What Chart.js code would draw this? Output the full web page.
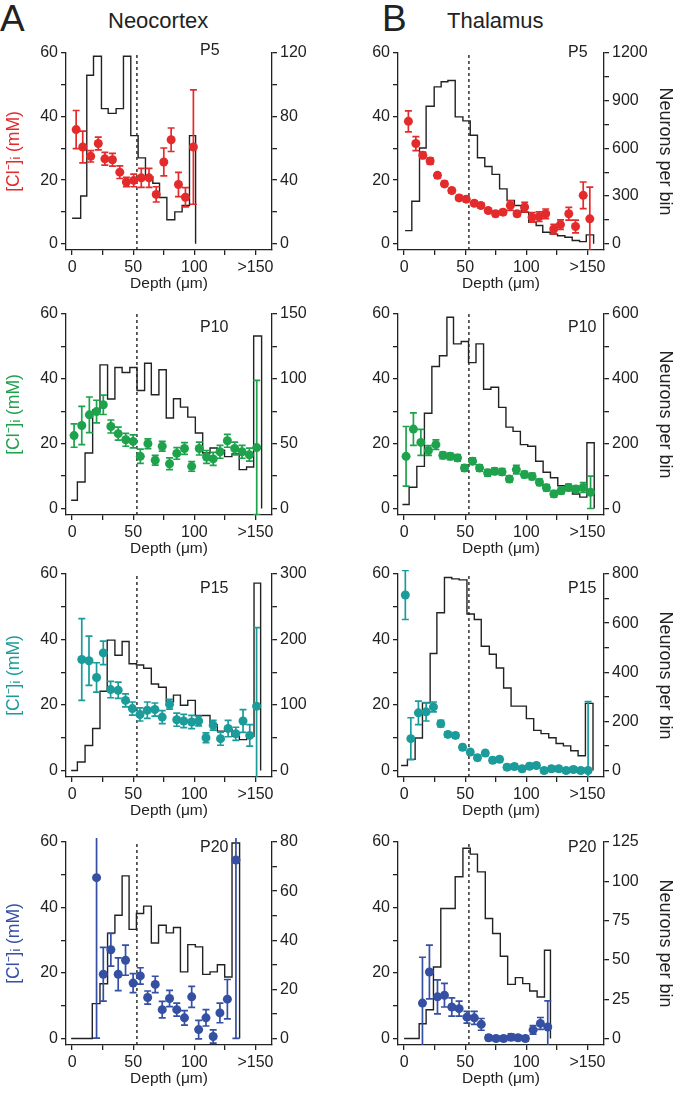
<!DOCTYPE html>
<html>
<head>
<meta charset="utf-8">
<script src="https://cdn.jsdelivr.net/npm/chart.js@4.4.1/dist/chart.umd.min.js"></script>
<style>
  body { margin: 0; background: #fff; width: 677px; height: 1094px; position: relative; overflow: hidden; font-family: "Liberation Sans", Arial, sans-serif; color: #222; }
  canvas { position: absolute; }
  .txt { position: absolute; white-space: nowrap; line-height: 1; }
</style>
</head>
<body>
<div class="txt" style="left:0px;top:0px;font-size:37px">A</div>
<div class="txt" style="left:108px;top:10px;font-size:22px">Neocortex</div>
<div class="txt" style="left:382px;top:0px;font-size:37px">B</div>
<div class="txt" style="left:447px;top:10px;font-size:22px">Thalamus</div>

<canvas id="ncP5" width="336" height="255" style="left:0px;top:38px"></canvas>
<canvas id="thP5" width="341" height="255" style="left:336px;top:38px"></canvas>
<canvas id="ncP10" width="336" height="259" style="left:0px;top:299px"></canvas>
<canvas id="thP10" width="341" height="259" style="left:336px;top:299px"></canvas>
<canvas id="ncP15" width="336" height="261" style="left:0px;top:559px"></canvas>
<canvas id="thP15" width="341" height="261" style="left:336px;top:559px"></canvas>
<canvas id="ncP20" width="336" height="261" style="left:0px;top:827px"></canvas>
<canvas id="thP20" width="341" height="261" style="left:336px;top:827px"></canvas>

<div class="txt" style="left:200px;top:42px;font-size:16px">P5</div>
<div class="txt" style="left:568px;top:44px;font-size:16px">P5</div>
<div class="txt" style="left:200px;top:319px;font-size:16px">P10</div>
<div class="txt" style="left:568px;top:319px;font-size:16px">P10</div>
<div class="txt" style="left:200px;top:580px;font-size:16px">P15</div>
<div class="txt" style="left:568px;top:580px;font-size:16px">P15</div>
<div class="txt" style="left:200px;top:839px;font-size:16px">P20</div>
<div class="txt" style="left:568px;top:839px;font-size:16px">P20</div>

<script>
// shared axes
const depthTicks = [0, 25, 50, 75, 100, 125, 150]
const depthLabels = { 0: '0', 50: '50', 100: '100', 150: '>150' }
const clTicks = [0, 10, 20, 30, 40, 50, 60]
const clLabels = [0, 20, 40, 60]
const layerEdge = 53

const red = '#e42b2c'
const green = '#1ea24c'
const teal = '#1b9c9a'
const blue = '#3550a3'

// Neocortex P5
const ncP5Depth = [3.3, 8.7, 15.2, 21.4, 26.8, 33, 39, 44.4, 50.4, 56.6, 62.9, 68.8, 75, 81, 87, 92.7, 99.2]
const ncP5Cl = [35.9, 30.4, 27.5, 31.5, 26.7, 26.4, 22.5, 19.4, 19.9, 20.7, 20.7, 15.5, 25.7, 32.7, 18.6, 14.6, 30.4]
const ncP5Err = [6, 5, 1.8, 2, 2, 2, 2, 1.5, 2, 3, 3, 2.4, 4.4, 3.7, 3.8, 3, 18]
const ncP5Edges = [0, 7, 12, 17.5, 24, 29.5, 36, 42, 48, 54, 60, 66, 71.5, 77.5, 84, 90, 96, 101]
const ncP5Counts = [16, 30, 106, 118, 85, 82, 85, 118, 68, 54, 42, 38, 29, 15, 20, 24, 68]
const ncP5CountTicks = [0, 20, 40, 60, 80, 100, 120]
const ncP5CountLabels = [0, 40, 80, 120]

// Thalamus P5
const thP5Depth = [3.5, 9.6, 15.3, 21.3, 27.3, 33, 39, 45, 50.8, 57.4, 62.8, 68.8, 74.8, 80.9, 86.9, 92.4, 98.6, 104.7, 110.4, 115.8, 122.4, 127.9, 134.7, 140.2, 146.5, 151.9]
const thP5Cl = [38.5, 31.5, 27.8, 26, 21.5, 18.8, 16.7, 14.4, 14, 12.7, 12, 10.4, 9.4, 9.9, 12, 9.4, 11.5, 8.3, 8.5, 9.4, 4.6, 6, 9.4, 5.4, 15.2, 7.8]
const thP5Err = [3.3, 2.2, 1, 1, 0.8, 0.8, 0.8, 0.8, 0.8, 0.8, 0.8, 0.8, 0.8, 0.8, 1.5, 0.8, 1.5, 1.5, 1.5, 1.5, 1.5, 1.5, 2, 2, 4.2, 10]
const thP5Edges = [0.8, 6.3, 12.6, 18, 24.6, 30.3, 35.8, 41.8, 48.1, 54.1, 60, 66, 71.9, 78.1, 84.2, 90.2, 95.9, 101.9, 108, 113.4, 119.5, 125.5, 131.5, 137.5, 143.5, 149, 155]
const thP5Counts = [82, 267, 602, 865, 987, 1019, 1027, 798, 773, 682, 541, 486, 436, 345, 272, 240, 198, 135, 114, 72, 60, 50, 40, 20, 13, 55]
const thP5CountTicks = [0, 150, 300, 450, 600, 750, 900, 1050, 1200]
const thP5CountLabels = [0, 300, 600, 900, 1200]

// Neocortex P10
const ncP10Depth = [1.6, 7.9, 14.1, 20, 25.5, 31.7, 37.7, 43.9, 49.9, 55.8, 62, 68, 73.7, 79.7, 85.6, 91.9, 97.8, 104, 110, 115.4, 121, 127, 133, 139, 145, 151]
const ncP10Cl = [22.5, 25.6, 28.9, 29.9, 32, 25.3, 23.1, 21.2, 20.7, 16.1, 20, 14.9, 19.2, 13.8, 17, 18.5, 13, 18.5, 15.9, 15.3, 17.5, 20.9, 18.5, 17.5, 16.6, 18.8]
const ncP10Err = [3.6, 5.9, 5.5, 3.5, 3, 2, 2, 2, 2, 2.2, 1.5, 1.5, 1.5, 1.8, 1.8, 1.8, 1.5, 2, 2, 2, 2, 2, 2, 2, 2, 20.7]
const ncP10Edges = [-0.8, 4.3, 10.6, 16.8, 22.8, 29, 35, 40.9, 47.2, 53.1, 59.3, 64.8, 71, 77, 82.9, 88.6, 94.6, 100.8, 106.8, 112.8, 118.7, 124.7, 130.7, 136.7, 142.7, 148.5, 155]
const ncP10Counts = [6.4, 20.5, 42.8, 76, 110.8, 84.4, 108.7, 104.9, 108.7, 91, 112, 87.7, 107, 69.8, 84.6, 78.2, 70.5, 58.2, 42.8, 46.7, 45, 40, 42, 30, 32, 133]
const ncP10CountTicks = [0, 25, 50, 75, 100, 125, 150]
const ncP10CountLabels = [0, 50, 100, 150]

// Thalamus P10
const thP10Depth = [1.6, 7.6, 13.7, 19.9, 26, 31.7, 37.7, 43.7, 49.4, 56, 61.7, 68.3, 74, 80.1, 86.1, 91.8, 98.4, 104.7, 110.7, 116.4, 122.5, 128.5, 134.5, 140.5, 146.5, 152.5]
const thP10Cl = [16.1, 24.5, 20.4, 17.9, 19.7, 16.4, 16.1, 15.6, 12.5, 14.6, 12.5, 11, 11.5, 11.3, 9.1, 12, 10.5, 9.9, 8.1, 6.4, 4.5, 5.5, 6.5, 6, 6.5, 5]
const thP10Err = [9.2, 5, 4, 1.5, 1.5, 1, 1, 1, 1, 1, 1, 1, 1, 1, 1, 1.3, 1, 1, 1, 1, 1, 1, 1, 1, 1.5, 5]
const thP10Edges = [-1.4, 4.1, 10.4, 16.6, 22.7, 28.9, 35, 40.4, 46.7, 52.7, 58.8, 65, 71, 77.3, 83.3, 89.1, 95.1, 101.1, 107.6, 113.7, 119.7, 125.7, 131.7, 137.7, 143.7, 149.5, 155.5]
const thP10Counts = [12.3, 65.5, 130, 294, 438, 471, 590, 508, 515, 450, 508, 368, 374, 312, 251, 238, 197, 192, 146, 112, 95, 70, 60, 45, 35, 203]
const thP10CountTicks = [0, 100, 200, 300, 400, 500, 600]
const thP10CountLabels = [0, 200, 400, 600]

// Neocortex P15
const ncP15Depth = [7.9, 13.8, 20, 25.5, 31.5, 37.7, 43.7, 49.3, 55.5, 61.5, 67.7, 73.7, 79.7, 85.6, 91.3, 97.8, 103.5, 109.5, 115.4, 121.4, 127.6, 133.9, 139.8, 145.3, 150.9]
const ncP15Cl = [33.9, 33.5, 28.4, 35.9, 24.7, 24.5, 21.4, 18.9, 17.1, 18.4, 18.6, 16.3, 20.2, 15.5, 15.1, 14.8, 15.1, 10, 13.8, 9.7, 12.8, 11.2, 15.1, 10.7, 19.6]
const ncP15Err = [12.5, 7.5, 4.5, 3.6, 2.5, 2.5, 2, 2, 2, 2.5, 2, 2, 1.5, 2, 2, 2, 1.5, 1.5, 1.5, 2, 2.5, 2, 3.5, 3.3, 24]
const ncP15Edges = [-0.8, 4.3, 10.6, 16.8, 22.8, 28.7, 35, 40.9, 46.6, 52.6, 58.5, 64.8, 70.7, 77, 82.9, 88.6, 94.6, 100.8, 106.8, 112.8, 118.8, 124.8, 130.8, 136.8, 142.8, 148.8, 154.2]
const ncP15Counts = [0, 12.8, 38, 64, 121, 199, 176, 197, 163, 161, 156, 132, 127, 105, 115, 99.5, 107, 84, 84, 70, 60, 63, 52, 47, 52, 286]
const ncP15CountTicks = [0, 50, 100, 150, 200, 250, 300]
const ncP15CountLabels = [0, 100, 200, 300]

// Thalamus P15
const thP15Depth = [1, 5.5, 11.7, 18, 24, 30, 35.8, 42, 47.8, 54.1, 60, 66.4, 72.4, 78.1, 84.2, 90.2, 96.5, 102.5, 108.2, 114.5, 120.5, 126.5, 132.5, 138.5, 144.5, 150.5]
const thP15Cl = [53.6, 9.7, 17.6, 17.9, 19.4, 14.3, 11, 10.7, 7.1, 5.6, 3.9, 5.3, 3.1, 3.4, 1, 1.2, 0.5, 1.3, 1.5, 0, 0.5, 0.5, 0, 0.3, 0, 0]
const thP15Err = [7.5, 6.4, 3.6, 2.8, 1.5, 1, 0.8, 0.8, 0.8, 0.8, 0.8, 0.8, 0.8, 0.8, 0.8, 0.8, 0.8, 0.8, 0.8, 0.8, 0.8, 0.8, 0.8, 0.8, 0.8, 21]
const thP15Edges = [-2.5, 2.7, 9, 15, 21.3, 26.8, 33, 39, 45, 51.4, 57.4, 63.1, 69.7, 75.4, 81.4, 87.5, 93.7, 100, 106, 112, 118.3, 124.3, 130.3, 136.3, 142.3, 148.3, 154.5]
const thP15Counts = [20, 45, 132, 275, 476, 642, 786, 780, 776, 637, 615, 506, 473, 417, 336, 262, 262, 211, 163, 150, 133, 110, 100, 80, 60, 273]
const thP15CountTicks = [0, 100, 200, 300, 400, 500, 600, 700, 800]
const thP15CountLabels = [0, 200, 400, 600, 800]

// Neocortex P20
const ncP20Depth = [20, 25.5, 31.7, 37.7, 43.7, 49.9, 55.8, 61.8, 68, 73.7, 79.7, 85.6, 91.9, 97.8, 103.5, 109.5, 115.4, 120.9, 127, 134]
const ncP20Cl = [49.1, 19.6, 27.1, 19.6, 23.9, 16.9, 19.1, 12.5, 16.5, 8.8, 12.2, 8.8, 6.3, 12.7, 2.7, 6.3, 0.6, 7.8, 12, 54.5]
const ncP20Err = [49, 8.2, 5, 5, 4.6, 2.9, 2.5, 2, 2.5, 2.5, 2.5, 2, 2.2, 3.2, 2.8, 2.5, 2, 3, 6, 54.5]
const ncP20Edges = [-0.8, 16.5, 22.8, 29, 35, 40.9, 46.6, 52.6, 58.5, 64.8, 70.7, 77, 82.9, 88.6, 94.6, 100.8, 106.8, 112.8, 118.8, 124.8, 130.8, 137]
const ncP20Counts = [0, 14.2, 22.3, 42.9, 50.2, 66.2, 44.4, 50.9, 53.9, 38.9, 46.1, 43, 45.2, 27.1, 38.2, 37.3, 26.1, 27.1, 30, 25, 79.6]
const ncP20CountTicks = [0, 10, 20, 30, 40, 50, 60, 70, 80]
const ncP20CountLabels = [0, 20, 40, 60, 80]

// Thalamus P20
const thP20Depth = [15, 20.7, 27.3, 33, 39, 45, 51.4, 57.4, 63.1, 69.1, 75.2, 81.4, 87.5, 93.2, 99.2, 105.5, 111.5, 117.5]
const thP20Cl = [10.8, 20.3, 12.7, 13.2, 9.6, 9.1, 6.5, 6.3, 4.3, 0.2, 0, 0, 0.4, 0.2, 0, 2.6, 4.6, 3.5]
const thP20Err = [14, 8.2, 5.2, 3.6, 2.8, 2.3, 1.8, 2, 1.8, 0.8, 0.8, 0.8, 1, 0.8, 0.8, 1.3, 1.8, 8]
const thP20Edges = [0, 12.3, 18, 24, 30, 36.3, 41.8, 48.1, 54.1, 60, 66.4, 72.4, 78.7, 84.7, 91, 97, 102.7, 108.8, 114.8, 119.7]
const thP20Counts = [0, 9.4, 18.3, 45.5, 82.7, 82.7, 102.9, 121, 117.3, 106, 76.3, 66.8, 52.3, 34.4, 38.7, 34.9, 30.2, 26.4, 56.1]
const thP20CountTicks = [0, 25, 50, 75, 100, 125]
const thP20CountLabels = [0, 25, 50, 75, 100, 125]

Chart.defaults.font.family = '"Liberation Sans", Arial, sans-serif'
Chart.defaults.color = '#222'

// error bars drawn from the scales, under the points
const errorBars = {
    id: 'errorBars',
    beforeDatasetDraw(chart, args) {
        const ds = chart.data.datasets[args.index]
        if (!ds.errors) return
        const ctx = chart.ctx
        const xs = chart.scales.x
        const ys = chart.scales.y
        const a = chart.chartArea
        ctx.save()
        ctx.beginPath()
        ctx.rect(a.left, a.top - 4, a.right - a.left, a.bottom - a.top + 4)
        ctx.clip()
        ctx.strokeStyle = ds.backgroundColor
        ctx.lineWidth = 1.7
        ds.data.forEach((p, i) => {
            const e = ds.errors[i]
            if (!e) return
            const px = xs.getPixelForValue(p.x)
            const top = ys.getPixelForValue(p.y + e)
            const bot = ys.getPixelForValue(p.y - e)
            ctx.beginPath()
            ctx.moveTo(px, top); ctx.lineTo(px, bot)
            ctx.moveTo(px - 3.5, top); ctx.lineTo(px + 3.5, top)
            ctx.moveTo(px - 3.5, bot); ctx.lineTo(px + 3.5, bot)
            ctx.stroke()
        })
        ctx.restore()
    }
}

function makePanel(id, p) {
    const points = p.depth.map((d, i) => ({ x: d, y: p.cl[i] }))
    const hist = p.edges.map((e, i) => ({ x: e, y: i < p.counts.length ? p.counts[i] : 0 }))
    const countMax = p.countTicks[p.countTicks.length - 1]
    const isA = id.startsWith('nc')
    const ymin = -2

    new Chart(document.getElementById(id), {
        type: 'scatter',
        data: {
            datasets: [
                {
                    type: 'scatter',
                    data: points,
                    errors: p.err,
                    backgroundColor: p.color,
                    borderWidth: 0,
                    pointRadius: 4.5,
                    yAxisID: 'y'
                },
                {
                    type: 'line',
                    data: hist,
                    stepped: true,
                    borderColor: '#222',
                    borderWidth: 1.4,
                    pointRadius: 0,
                    fill: false,
                    yAxisID: 'y2'
                },
                {
                    type: 'line',
                    data: [{ x: layerEdge, y: ymin }, { x: layerEdge, y: 60 }],
                    borderColor: '#222',
                    borderWidth: 1.4,
                    borderDash: [3, 3],
                    pointRadius: 0,
                    yAxisID: 'y'
                }
            ]
        },
        options: {
            responsive: false,
            animation: false,
            layout: { padding: { top: 15, left: 0, right: 0, bottom: 0 } },
            plugins: { legend: { display: false }, tooltip: { enabled: false } },
            scales: {
                x: {
                    type: 'linear',
                    min: -5,
                    max: 163.5,
                    afterBuildTicks: s => { s.ticks = depthTicks.map(v => ({ value: v })) },
                    afterFit: s => { s.height = 43 },
                    border: { color: '#222', width: 1.3 },
                    grid: { drawOnChartArea: false, color: '#222', lineWidth: 1.3, tickLength: 5 },
                    ticks: { autoSkip: false, maxRotation: 0, padding: 3, font: { size: 16 }, callback: v => depthLabels[v] ?? '' },
                    title: { display: true, text: 'Depth (μm)', font: { size: 15.5 }, padding: { top: 0, bottom: 0 } }
                },
                y: {
                    position: 'left',
                    min: ymin,
                    max: 60,
                    afterBuildTicks: s => { s.ticks = clTicks.map(v => ({ value: v })) },
                    afterFit: s => { s.width = isA ? 66 : 62 },
                    border: { color: '#222', width: 1.3 },
                    grid: { drawOnChartArea: false, color: '#222', lineWidth: 1.3, tickLength: 5 },
                    ticks: { autoSkip: false, padding: 3, font: { size: 16 }, callback: v => clLabels.includes(v) ? String(v) : '' },
                    title: { display: isA, text: '[Cl⁻]ᵢ (mM)', color: p.color, font: { size: 17.5 }, padding: { top: 4, bottom: 0 } }
                },
                y2: {
                    position: 'right',
                    min: ymin * countMax / 60,
                    max: countMax,
                    afterBuildTicks: s => { s.ticks = p.countTicks.map(v => ({ value: v })) },
                    afterFit: s => { s.width = isA ? 64 : 73 },
                    border: { color: '#222', width: 1.3 },
                    grid: { drawOnChartArea: false, color: '#222', lineWidth: 1.3, tickLength: 5 },
                    ticks: { autoSkip: false, padding: 3, font: { size: 16 }, callback: v => p.countLabels.includes(v) ? String(v) : '' },
                    title: { display: !isA, text: 'Neurons per bin', font: { size: 18 }, padding: { top: 1, bottom: 0 } }
                }
            }
        },
        plugins: [errorBars]
    })
}

makePanel('ncP5', { depth: ncP5Depth, cl: ncP5Cl, err: ncP5Err, edges: ncP5Edges, counts: ncP5Counts, countTicks: ncP5CountTicks, countLabels: ncP5CountLabels, color: red })
makePanel('thP5', { depth: thP5Depth, cl: thP5Cl, err: thP5Err, edges: thP5Edges, counts: thP5Counts, countTicks: thP5CountTicks, countLabels: thP5CountLabels, color: red })
makePanel('ncP10', { depth: ncP10Depth, cl: ncP10Cl, err: ncP10Err, edges: ncP10Edges, counts: ncP10Counts, countTicks: ncP10CountTicks, countLabels: ncP10CountLabels, color: green })
makePanel('thP10', { depth: thP10Depth, cl: thP10Cl, err: thP10Err, edges: thP10Edges, counts: thP10Counts, countTicks: thP10CountTicks, countLabels: thP10CountLabels, color: green })
makePanel('ncP15', { depth: ncP15Depth, cl: ncP15Cl, err: ncP15Err, edges: ncP15Edges, counts: ncP15Counts, countTicks: ncP15CountTicks, countLabels: ncP15CountLabels, color: teal })
makePanel('thP15', { depth: thP15Depth, cl: thP15Cl, err: thP15Err, edges: thP15Edges, counts: thP15Counts, countTicks: thP15CountTicks, countLabels: thP15CountLabels, color: teal })
makePanel('ncP20', { depth: ncP20Depth, cl: ncP20Cl, err: ncP20Err, edges: ncP20Edges, counts: ncP20Counts, countTicks: ncP20CountTicks, countLabels: ncP20CountLabels, color: blue })
makePanel('thP20', { depth: thP20Depth, cl: thP20Cl, err: thP20Err, edges: thP20Edges, counts: thP20Counts, countTicks: thP20CountTicks, countLabels: thP20CountLabels, color: blue })
</script>
</body>
</html>
